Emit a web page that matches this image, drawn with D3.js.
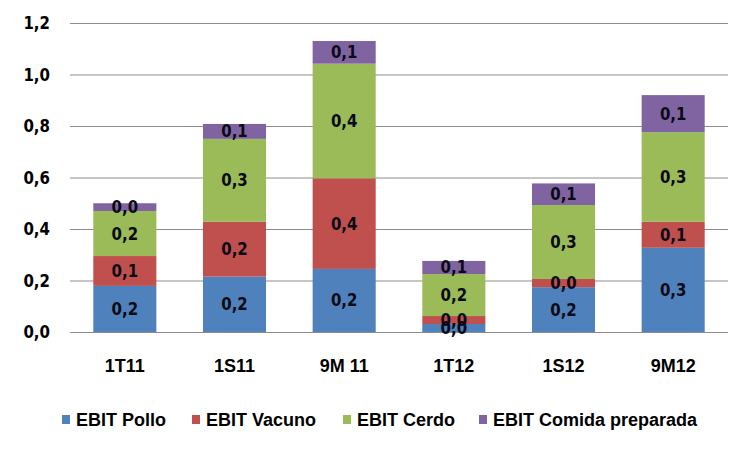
<html>
<script src="https://cdnjs.cloudflare.com/ajax/libs/d3/7.8.5/d3.min.js"></script>
<style>
body { margin: 0; background: #fff; }
.lbl { font-family: "DejaVu Sans", Verdana, sans-serif; font-weight: bold; font-size: 15px; }
.cat { font-family: "Liberation Sans Narrow", "Arial Narrow", sans-serif; font-weight: bold; font-size: 18px; }
.leg { font-family: "Liberation Sans Narrow", "Arial Narrow", sans-serif; font-weight: bold; font-size: 18px; }
</style>
<body>
<svg width="752" height="451"></svg>
<script>
var categories = ["1T11", "1S11", "9M 11", "1T12", "1S12", "9M12"];
var seriesNames = ["EBIT Pollo", "EBIT Vacuno", "EBIT Cerdo", "EBIT Comida preparada"];
var pollo  = [0.179, 0.215, 0.245, 0.031, 0.174, 0.327];
var vacuno = [0.116, 0.213, 0.352, 0.031, 0.032, 0.101];
var cerdo  = [0.175, 0.322, 0.445, 0.163, 0.287, 0.348];
var comida = [0.030, 0.058, 0.088, 0.051, 0.084, 0.144];
var yTicks = [0, 0.2, 0.4, 0.6, 0.8, 1.0, 1.2];
var colors = ["#4F81BD", "#C0504D", "#9BBB59", "#8064A2"];

var keys = ["pollo", "vacuno", "cerdo", "comida"];
var table = categories.map(function(c, i) {
  return {cat: c, pollo: pollo[i], vacuno: vacuno[i], cerdo: cerdo[i], comida: comida[i]};
});
var stacked = d3.stack().keys(keys)(table);

var svg = d3.select("svg");
var x = d3.scaleBand().domain(categories).range([70, 728]).paddingInner(0.425).paddingOuter(0.2125);
var y = d3.scaleLinear().domain([0, 1.2]).range([332, 23]);
var fmt = function(v) { return d3.format(".1f")(v).replace(".", ","); };

// gridlines
svg.append("g").selectAll("line").data(yTicks).enter().append("line")
  .attr("x1", 70).attr("x2", 728)
  .attr("y1", function(d) { return y(d) + 0.5; })
  .attr("y2", function(d) { return y(d) + 0.5; })
  .attr("stroke", "#8c8c8c").attr("stroke-width", 1);

// y labels
svg.append("g").selectAll("text").data(yTicks).enter().append("text")
  .attr("class", "lbl")
  .attr("text-anchor", "end")
  .attr("transform", function(d) { return "translate(50," + (y(d) + 6) + ") scale(1,1.2)"; })
  .text(fmt);

// bars
var layers = svg.append("g").selectAll("g").data(stacked).enter().append("g")
  .attr("fill", function(d, i) { return colors[i]; });
layers.selectAll("rect").data(function(d) { return d; }).enter().append("rect")
  .attr("x", function(d) { return x(d.data.cat); })
  .attr("width", x.bandwidth())
  .attr("y", function(d) { return y(d[1]); })
  .attr("height", function(d) { return y(d[0]) - y(d[1]); });

// data labels
var lg = svg.append("g");
stacked.forEach(function(s) {
  s.forEach(function(d) {
    lg.append("text").attr("class", "lbl")
      .attr("text-anchor", "middle")
      .attr("fill", "#0a0a14")
      .attr("transform", "translate(" + (x(d.data.cat) + x.bandwidth() / 2) + "," + ((y(d[0]) + y(d[1])) / 2 + 6) + ") scale(1,1.2)")
      .text(fmt(d[1] - d[0]));
  });
});

// category axis labels
svg.append("g").selectAll("text").data(categories).enter().append("text")
  .attr("class", "cat")
  .attr("text-anchor", "middle")
  .attr("x", function(d) { return x(d) + x.bandwidth() / 2; })
  .attr("y", 372)
  .text(function(d) { return d; });

// legend
var legX = [62, 192, 343, 479];
var leg = svg.append("g").selectAll("g").data(seriesNames).enter().append("g")
  .attr("transform", function(d, i) { return "translate(" + legX[i] + ",420)"; });
leg.append("rect").attr("x", 0).attr("y", -5).attr("width", 8).attr("height", 9)
  .attr("fill", function(d, i) { return colors[i]; });
leg.append("text").attr("class", "leg").attr("x", 14).attr("y", 6)
  .text(function(d) { return d; });
</script>
</body>
</html>
